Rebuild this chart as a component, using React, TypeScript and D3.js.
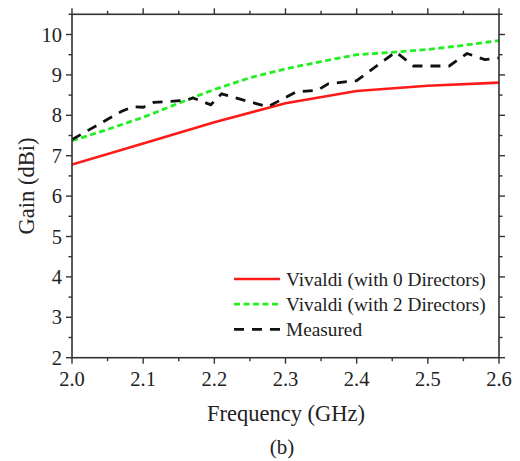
import React from "react";
import * as d3 from "d3";

const xTicks = [2.0, 2.1, 2.2, 2.3, 2.4, 2.5, 2.6];
const xTickLabels = ["2.0", "2.1", "2.2", "2.3", "2.4", "2.5", "2.6"];
const yTicks = [2, 3, 4, 5, 6, 7, 8, 9, 10];
const seriesNames = ["Vivaldi (with 0 Directors)", "Vivaldi (with 2 Directors)", "Measured"];

const freq0 = [2.0, 2.1, 2.2, 2.3, 2.4, 2.5, 2.6];
const gain0 = [6.78, 7.3, 7.83, 8.3, 8.6, 8.73, 8.81];

const freq2 = [2.0, 2.05, 2.1, 2.15, 2.2, 2.25, 2.3, 2.35, 2.4, 2.45, 2.5, 2.55, 2.6];
const gain2 = [7.37, 7.65, 7.95, 8.3, 8.64, 8.93, 9.15, 9.33, 9.5, 9.56, 9.63, 9.73, 9.85];

const freqM = [2.0, 2.07, 2.085, 2.1, 2.115, 2.16, 2.17, 2.195, 2.21, 2.275, 2.315, 2.345, 2.36, 2.4, 2.455, 2.48, 2.53, 2.555, 2.58, 2.6];
const gainM = [7.4, 8.1, 8.21, 8.2, 8.32, 8.37, 8.43, 8.26, 8.53, 8.21, 8.58, 8.62, 8.78, 8.86, 9.57, 9.22, 9.22, 9.53, 9.38, 9.42];

const W = 520, H = 461;
const L = 72, R = 499, T = 14.3, B = 357.7;

export default function App() {
  const x = d3.scaleLinear().domain([2.0, 2.6]).range([L, R]);
  const y = d3.scaleLinear().domain([2, 10.5]).range([B, T]);
  const line = d3.line<[number, number]>().x(d => x(d[0])).y(d => y(d[1]));
  const toPts = (f: number[], g: number[]) => f.map((v, i) => [v, g[i]] as [number, number]);

  const xMinor = d3.range(0, 13).map(i => 2.0 + i * 0.05);
  const yMinor = d3.range(0, 18).map(i => 2 + i * 0.5).filter(v => v <= 10.5);

  const font = "'Liberation Serif', 'Times New Roman', serif";
  const axisColor = "#333";

  const series = [
    { name: seriesNames[0], pts: toPts(freq0, gain0), color: "#ff1a1a", dash: undefined as string | undefined, w: 2.6 },
    { name: seriesNames[1], pts: toPts(freq2, gain2), color: "#22ee22", dash: "6,3.5", w: 2.8 },
    { name: seriesNames[2], pts: toPts(freqM, gainM), color: "#111", dash: "10,8", w: 2.8 },
  ];

  return (
    <svg width={W} height={H} style={{ position: "absolute", left: 0, top: 0, background: "#fff" }} fontFamily={font}>
      <rect x={0} y={0} width={W} height={H} fill="#fff" />
      <g clipPath="url(#clip)">
        <defs>
          <clipPath id="clip"><rect x={L} y={T} width={R - L} height={B - T} /></clipPath>
        </defs>
        {series.map(s => (
          <path key={s.name} d={line(s.pts) || ""} fill="none" stroke={s.color} strokeWidth={s.w} strokeDasharray={s.dash} />
        ))}
      </g>
      {/* frame */}
      <rect x={L} y={T} width={R - L} height={B - T} fill="none" stroke={axisColor} strokeWidth={1.6} />
      {/* x ticks bottom and top */}
      {xMinor.map((v, i) => {
        const major = i % 2 === 0;
        const len = major ? 6 : 3.5;
        return (
          <g key={"xt" + i} stroke={axisColor} strokeWidth={1.4}>
            <line x1={x(v)} x2={x(v)} y1={B} y2={B + len} />
            <line x1={x(v)} x2={x(v)} y1={T} y2={T - len} />
          </g>
        );
      })}
      {yMinor.map((v, i) => {
        const major = Number.isInteger(v);
        const len = major ? 6 : 3.5;
        return (
          <g key={"yt" + i} stroke={axisColor} strokeWidth={1.4}>
            <line x1={L} x2={L - len} y1={y(v)} y2={y(v)} />
            <line x1={R} x2={R + len} y1={y(v)} y2={y(v)} />
          </g>
        );
      })}
      {xTicks.map((v, i) => (
        <text key={"xl" + i} x={x(v)} y={386} textAnchor="middle" fontSize={20.5} fill="#222">{xTickLabels[i]}</text>
      ))}
      {yTicks.map(v => (
        <text key={"yl" + v} x={62} y={y(v) + 7} textAnchor="end" fontSize={20.5} fill="#222">{v}</text>
      ))}
      <text x={286} y={421} textAnchor="middle" fontSize={22.5} fill="#222">Frequency (GHz)</text>
      <text x={282} y={454} textAnchor="middle" fontSize={21} fill="#222">(b)</text>
      <text transform={`translate(33.5, ${(T + B) / 2}) rotate(-90)`} textAnchor="middle" fontSize={22.5} fill="#222">Gain (dBi)</text>
      {/* legend */}
      {series.map((s, i) => {
        const ly = 279 + i * 25.2;
        return (
          <g key={"lg" + i}>
            <line x1={234} x2={280} y1={ly} y2={ly} stroke={s.color} strokeWidth={s.w} strokeDasharray={s.dash} />
            <text x={286} y={ly + 6.5} fontSize={19.3} fill="#222">{s.name}</text>
          </g>
        );
      })}
    </svg>
  );
}
